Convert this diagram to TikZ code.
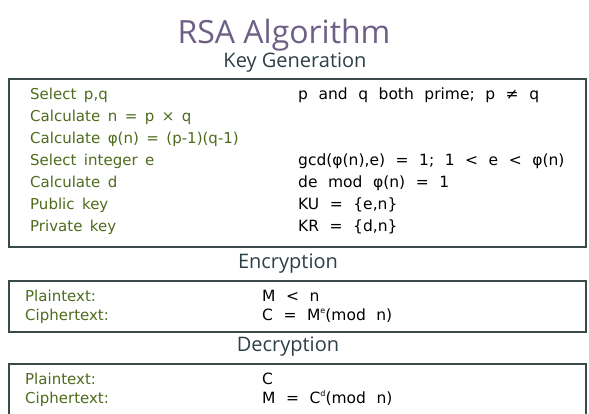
\documentclass[tikz,border=0pt]{standalone}
\usepackage{fontspec}
\setmainfont{Open Sans}
\newfontfamily\bodyfont{DejaVu Sans}
\definecolor{titlecol}{HTML}{6E5F86}
\definecolor{headcol}{HTML}{2E3F47}
\definecolor{labelcol}{HTML}{4F6B1C}
\definecolor{framecol}{HTML}{3A4A4A}
% body fonts with the wide word gaps of the lettering
\newcommand{\lblfont}{\bodyfont\fontsize{15}{15}\selectfont\spaceskip=0.5em\relax}
\newcommand{\valfont}{\bodyfont\fontsize{15.5}{15.5}\selectfont\spaceskip=0.68em\relax}
\newcommand{\supx}[1]{\raisebox{0.8ex}{\fontsize{8}{8}\selectfont #1}}
\begin{document}
\begin{tikzpicture}[x=1pt,y=-1pt,
  titletext/.style={font=\fontsize{32}{32}\selectfont, text=titlecol, inner sep=0pt},
  headtext/.style={font=\fontsize{20}{20}\selectfont, text=headcol, inner sep=0pt},
  lbl/.style={anchor=base west, font=\lblfont, text=labelcol, inner sep=0pt},
  val/.style={anchor=base west, font=\valfont, text=black, inner sep=0pt},
  panel/.style={draw=framecol, line width=1.8pt, fill=white, anchor=north west, inner sep=0pt}]
\useasboundingbox (0,0) rectangle (589,414);
\fill[white] (0,0) rectangle (589,414);
\begin{scope}
\clip (0,0) rectangle (589,414);

% headings
\node[titletext] (title) at (284,35) {RSA Algorithm};
\node[headtext] (kghead) at (295,63) {Key Generation};
\node[headtext] (enchead) at (288,264) {Encryption};
\node[headtext] (dechead) at (288,347) {Decryption};

% panels
\node[panel, minimum width=577pt, minimum height=168pt] (kgbox) at (8,78) {};
\node[panel, minimum width=577pt, minimum height=51pt] (encbox) at (8,280) {};
\node[panel, minimum width=577pt, minimum height=60pt] (decbox) at (8,363) {};

% key generation
\node[lbl] (k1) at (30,100) {Select p,q};
\node[lbl] (k2) at (30,122) {Calculate n = p × q};
\node[lbl] (k3) at (30,144) {Calculate φ(n) = (p-1)(q-1)};
\node[lbl] (k4) at (30,166) {Select integer e};
\node[lbl] (k5) at (30,188) {Calculate d};
\node[lbl] (k6) at (30,210) {Public key};
\node[lbl] (k7) at (30,232) {Private key};

\node[val] (v1) at (298,100) {p and q both prime; p ≠ q};
\node[val] (v4) at (298,166) {gcd(φ(n),e) = 1; 1 < e < φ(n)};
\node[val] (v5) at (298,188) {de mod φ(n) = 1};
\node[val] (v6) at (298,210) {KU = \{e,n\}};
\node[val] (v7) at (298,232) {KR = \{d,n\}};

% encryption
\node[lbl] (e1) at (25,301) {Plaintext:};
\node[lbl] (e2) at (25,320) {Ciphertext:};
\node[val] (ev1) at (262,301) {M < n};
\node[val] (ev2) at (262,320) {C = M\supx{e}(mod n)};

% decryption
\node[lbl] (d1) at (25,384) {Plaintext:};
\node[lbl] (d2) at (25,403) {Ciphertext:};
\node[val] (dv1) at (262,384) {C};
\node[val] (dv2) at (262,403) {M = C\supx{d}(mod n)};
\end{scope}
\end{tikzpicture}
\end{document}
